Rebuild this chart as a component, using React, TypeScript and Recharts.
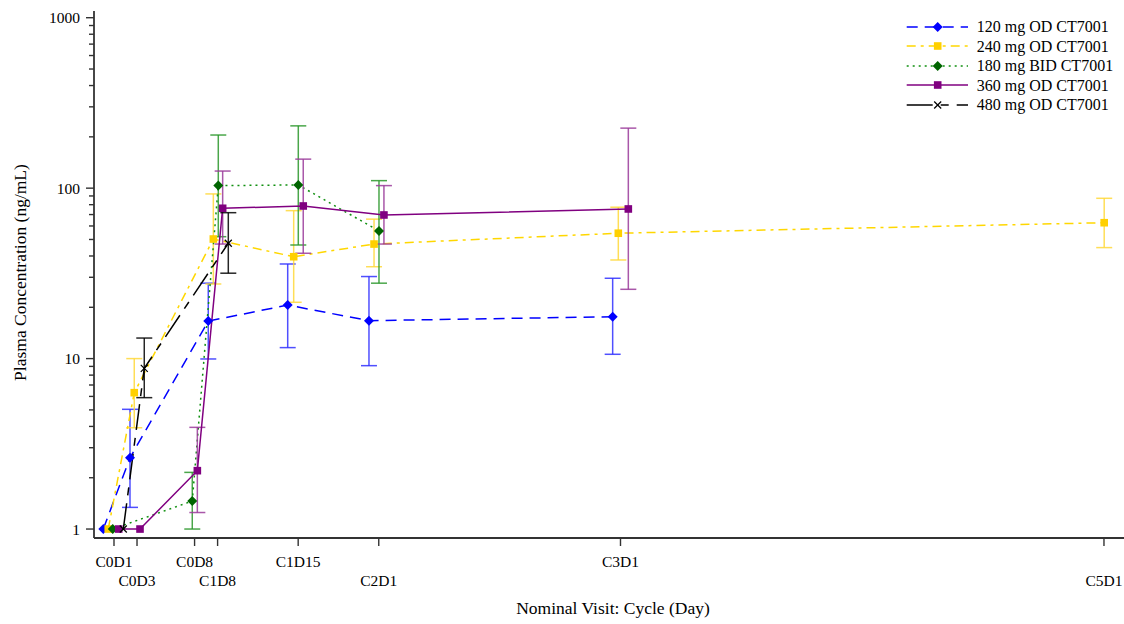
import React from 'react';
import { LineChart, Line, XAxis, YAxis, ErrorBar } from 'recharts';

// ---- data ----
const visitLabels = ['C0D1', 'C0D3', 'C0D8', 'C1D8', 'C1D15', 'C2D1', 'C3D1', 'C5D1'];
const visitDays = [1, 3, 8, 10, 17, 24, 45, 87];

const yMajorTicks = [1, 10, 100, 1000];
const yAllTicks = [
  1, 2, 3, 4, 5, 6, 7, 8, 9,
  10, 20, 30, 40, 50, 60, 70, 80, 90,
  100, 200, 300, 400, 500, 600, 700, 800, 900,
  1000,
];

// 120 mg OD CT7001 (plotted day incl. cluster offset, geometric mean, lower, upper)
const day120 = [0.07, 2.39, 9.19, 16.09, 23.15, 44.32];
const mean120 = [1, 2.62, 16.6, 20.6, 16.7, 17.6];
const low120 = [null, 1.34, 9.95, 11.6, 9.09, 10.6];
const high120 = [null, 5.04, 27.7, 35.9, 30.3, 29.6];

// 240 mg OD CT7001
const day240 = [0.5, 2.76, 9.63, 16.61, 23.59, 44.81, 87.02];
const mean240 = [1, 6.31, 50.3, 39.6, 47, 54.4, 62.7];
const low240 = [null, 3.93, 27.4, 21.4, 34.6, 37.9, 44.8];
const high240 = [null, 10.0, 92.5, 73.8, 65.8, 77.3, 87.2];

// 180 mg BID CT7001
const day180 = [0.89, 7.8, 10.06, 17.01, 24.02];
const mean180 = [1, 1.46, 103.5, 104.4, 56.1];
const low180 = [null, 1.0, 51.9, 46.4, 27.7];
const high180 = [null, 2.15, 205, 232, 110.7];

// 360 mg OD CT7001
const day360 = [1.41, 3.26, 8.24, 10.44, 17.44, 24.45, 45.68];
const mean360 = [1, 1, 2.2, 76.2, 78.6, 69.6, 75.5];
const low360 = [null, null, 1.25, 47, 41.5, 47, 25.5];
const high360 = [null, null, 3.95, 126, 148, 103.5, 225];

// 480 mg OD CT7001
const day480 = [1.81, 3.63, 10.93];
const mean480 = [1, 8.77, 47.5];
const low480 = [null, 5.9, 31.7];
const high480 = [null, 13.2, 71.8];

const seriesNames = [
  '120 mg OD CT7001',
  '240 mg OD CT7001',
  '180 mg BID CT7001',
  '360 mg OD CT7001',
  '480 mg OD CT7001',
];

const buildRows = (days: number[], mean: number[], low: (number | null)[], high: (number | null)[]) =>
  days.map((d, i) => ({
    x: d,
    y: mean[i],
    err: low[i] == null || high[i] == null ? undefined : [mean[i] - (low[i] as number), (high[i] as number) - mean[i]],
  }));

const rows = [
  buildRows(day120, mean120, low120, high120),
  buildRows(day240, mean240, low240, high240),
  buildRows(day180, mean180, low180, high180),
  buildRows(day360, mean360, low360, high360),
  buildRows(day480, mean480, low480, high480),
];

// ---- styles ----
const FONT = '"Liberation Serif", "Times New Roman", serif';
const AXIS = '#333333';

type Shape = 'diamond' | 'square' | 'x';
const styles: { color: string; marker: string; errColor: string; dash: string; shape: Shape }[] = [
  { color: '#0000ff', marker: '#0000ff', errColor: '#3030ff', dash: '11 7', shape: 'diamond' },
  { color: '#ffd700', marker: '#ffd000', errColor: '#ffd83a', dash: '9 5 3 5', shape: 'square' },
  { color: '#109010', marker: '#006400', errColor: '#2a962a', dash: '2 4', shape: 'diamond' },
  { color: '#800080', marker: '#800080', errColor: '#9a3a9a', dash: '', shape: 'square' },
  { color: '#000000', marker: '#000000', errColor: '#000000', dash: '26 8 8 8', shape: 'x' },
];

const Marker = ({ cx, cy, shape, color }: { cx: number; cy: number; shape: Shape; color: string }) => {
  if (cx == null || cy == null || isNaN(cx) || isNaN(cy)) return <g />;
  if (shape === 'diamond') {
    const r = 5;
    return <path d={`M${cx},${cy - r}L${cx + r},${cy}L${cx},${cy + r}L${cx - r},${cy}Z`} fill={color} stroke="none" />;
  }
  if (shape === 'square') {
    const h = 3.8;
    return <rect x={cx - h} y={cy - h} width={2 * h} height={2 * h} fill={color} stroke="none" />;
  }
  const h = 3.5;
  return (
    <g stroke={color} strokeWidth={1.2}>
      <line x1={cx - h} y1={cy - h} x2={cx + h} y2={cy + h} />
      <line x1={cx - h} y1={cy + h} x2={cx + h} y2={cy - h} />
    </g>
  );
};

const Y_TICK_SIZE = 8;
const Y_TICK_MARGIN = 6;

const YTick = (props: any) => {
  const { x, y, payload } = props;
  const axisX = x + Y_TICK_SIZE + Y_TICK_MARGIN;
  const v = payload.value;
  const major = yMajorTicks.includes(v);
  return (
    <g>
      <line x1={axisX - (major ? 8 : 5)} x2={axisX} y1={y} y2={y} stroke={AXIS} strokeWidth={1.4} />
      {major && (
        <text x={axisX - 14} y={y} textAnchor="end" dominantBaseline="central" fontSize={15.5} fontFamily={FONT} fill="#000">
          {v}
        </text>
      )}
    </g>
  );
};

const X_TICK_SIZE = 8;
const X_TICK_MARGIN = 4;

const XTick = (props: any) => {
  const { x, y, payload } = props;
  const i = visitDays.indexOf(payload.value);
  const axisY = y - X_TICK_SIZE - X_TICK_MARGIN;
  const row = i % 2;
  return (
    <text x={x} y={axisY + 23.7 + row * 18.3} textAnchor="middle" dominantBaseline="central" fontSize={15.5} fontFamily={FONT} fill="#000">
      {visitLabels[i]}
    </text>
  );
};

const XTitle = (props: any) => {
  const vb = props.viewBox || {};
  return (
    <text x={vb.x + vb.width / 2 + 4} y={vb.y + 70} textAnchor="middle" dominantBaseline="central" fontSize={17.5} fontFamily={FONT} fill="#000">
      Nominal Visit: Cycle (Day)
    </text>
  );
};

const YTitle = (props: any) => {
  const vb = props.viewBox || {};
  const cx = vb.x + 20;
  const cy = vb.y + vb.height / 2 - 2;
  return (
    <text x={cx} y={cy} transform={`rotate(-90 ${cx} ${cy})`} textAnchor="middle" dominantBaseline="central" fontSize={17.5} fontFamily={FONT} fill="#000">
      Plasma Concentration (ng/mL)
    </text>
  );
};

const LegendBox = () => (
  <div style={{ position: 'absolute', left: 905, top: 17, fontFamily: FONT, fontSize: 16, color: '#000' }}>
    {seriesNames.map((name, i) => {
      const s = styles[i];
      return (
        <div key={name} style={{ display: 'flex', alignItems: 'center', height: 19.5 }}>
          <svg width={64} height={14} style={{ display: 'block' }}>
            <line x1={1.7} x2={63} y1={7} y2={7} stroke={s.color} strokeWidth={1.5} strokeDasharray={s.dash || undefined} />
            <Marker cx={32.7} cy={7} shape={s.shape} color={s.marker} />
          </svg>
          <span style={{ marginLeft: 7.7, whiteSpace: 'nowrap', lineHeight: '19.5px' }}>{name}</span>
        </div>
      );
    })}
  </div>
);

export default function App() {
  return (
    <div style={{ position: 'absolute', left: 0, top: 0, width: 1124, height: 624, overflow: 'hidden', background: '#fff' }}>
      <LineChart width={1124} height={624} margin={{ top: 11, right: 0, bottom: 26, left: 0 }}>
        <XAxis
          dataKey="x"
          type="number"
          domain={[-0.737, 88.74]}
          ticks={visitDays}
          interval={0}
          allowDataOverflow
          height={60}
          tickSize={X_TICK_SIZE}
          tickMargin={X_TICK_MARGIN}
          tickLine={{ stroke: AXIS, strokeWidth: 1.4 }}
          axisLine={{ stroke: AXIS, strokeWidth: 1.8 }}
          tick={<XTick />}
          label={<XTitle />}
        />
        <XAxis
          xAxisId="top"
          orientation="top"
          dataKey="x"
          type="number"
          domain={[-0.737, 88.74]}
          height={0}
          tick={false}
          tickLine={false}
          axisLine={{ stroke: AXIS, strokeWidth: 1.8 }}
        />
        <YAxis
          type="number"
          scale="log"
          domain={[0.886, 1095]}
          allowDataOverflow
          ticks={yAllTicks}
          interval={0}
          width={94}
          tickSize={Y_TICK_SIZE}
          tickMargin={Y_TICK_MARGIN}
          tickLine={false}
          axisLine={{ stroke: AXIS, strokeWidth: 1.8 }}
          tick={<YTick />}
          label={<YTitle />}
        />
        {rows.map((data, si) => {
          const s = styles[si];
          return (
            <Line
              key={seriesNames[si]}
              name={seriesNames[si]}
              data={data}
              dataKey="y"
              type="linear"
              stroke={s.color}
              strokeWidth={1.5}
              strokeDasharray={s.dash || undefined}
              isAnimationActive={false}
              activeDot={false}
              dot={(p: any) => <Marker key={`m-${si}-${p.index}`} cx={p.cx} cy={p.cy} shape={s.shape} color={s.marker} />}
            >
              <ErrorBar dataKey="err" direction="y" width={8} stroke={s.errColor} strokeWidth={1.5} strokeOpacity={0.85} />
            </Line>
          );
        })}
      </LineChart>
      <LegendBox />
    </div>
  );
}
